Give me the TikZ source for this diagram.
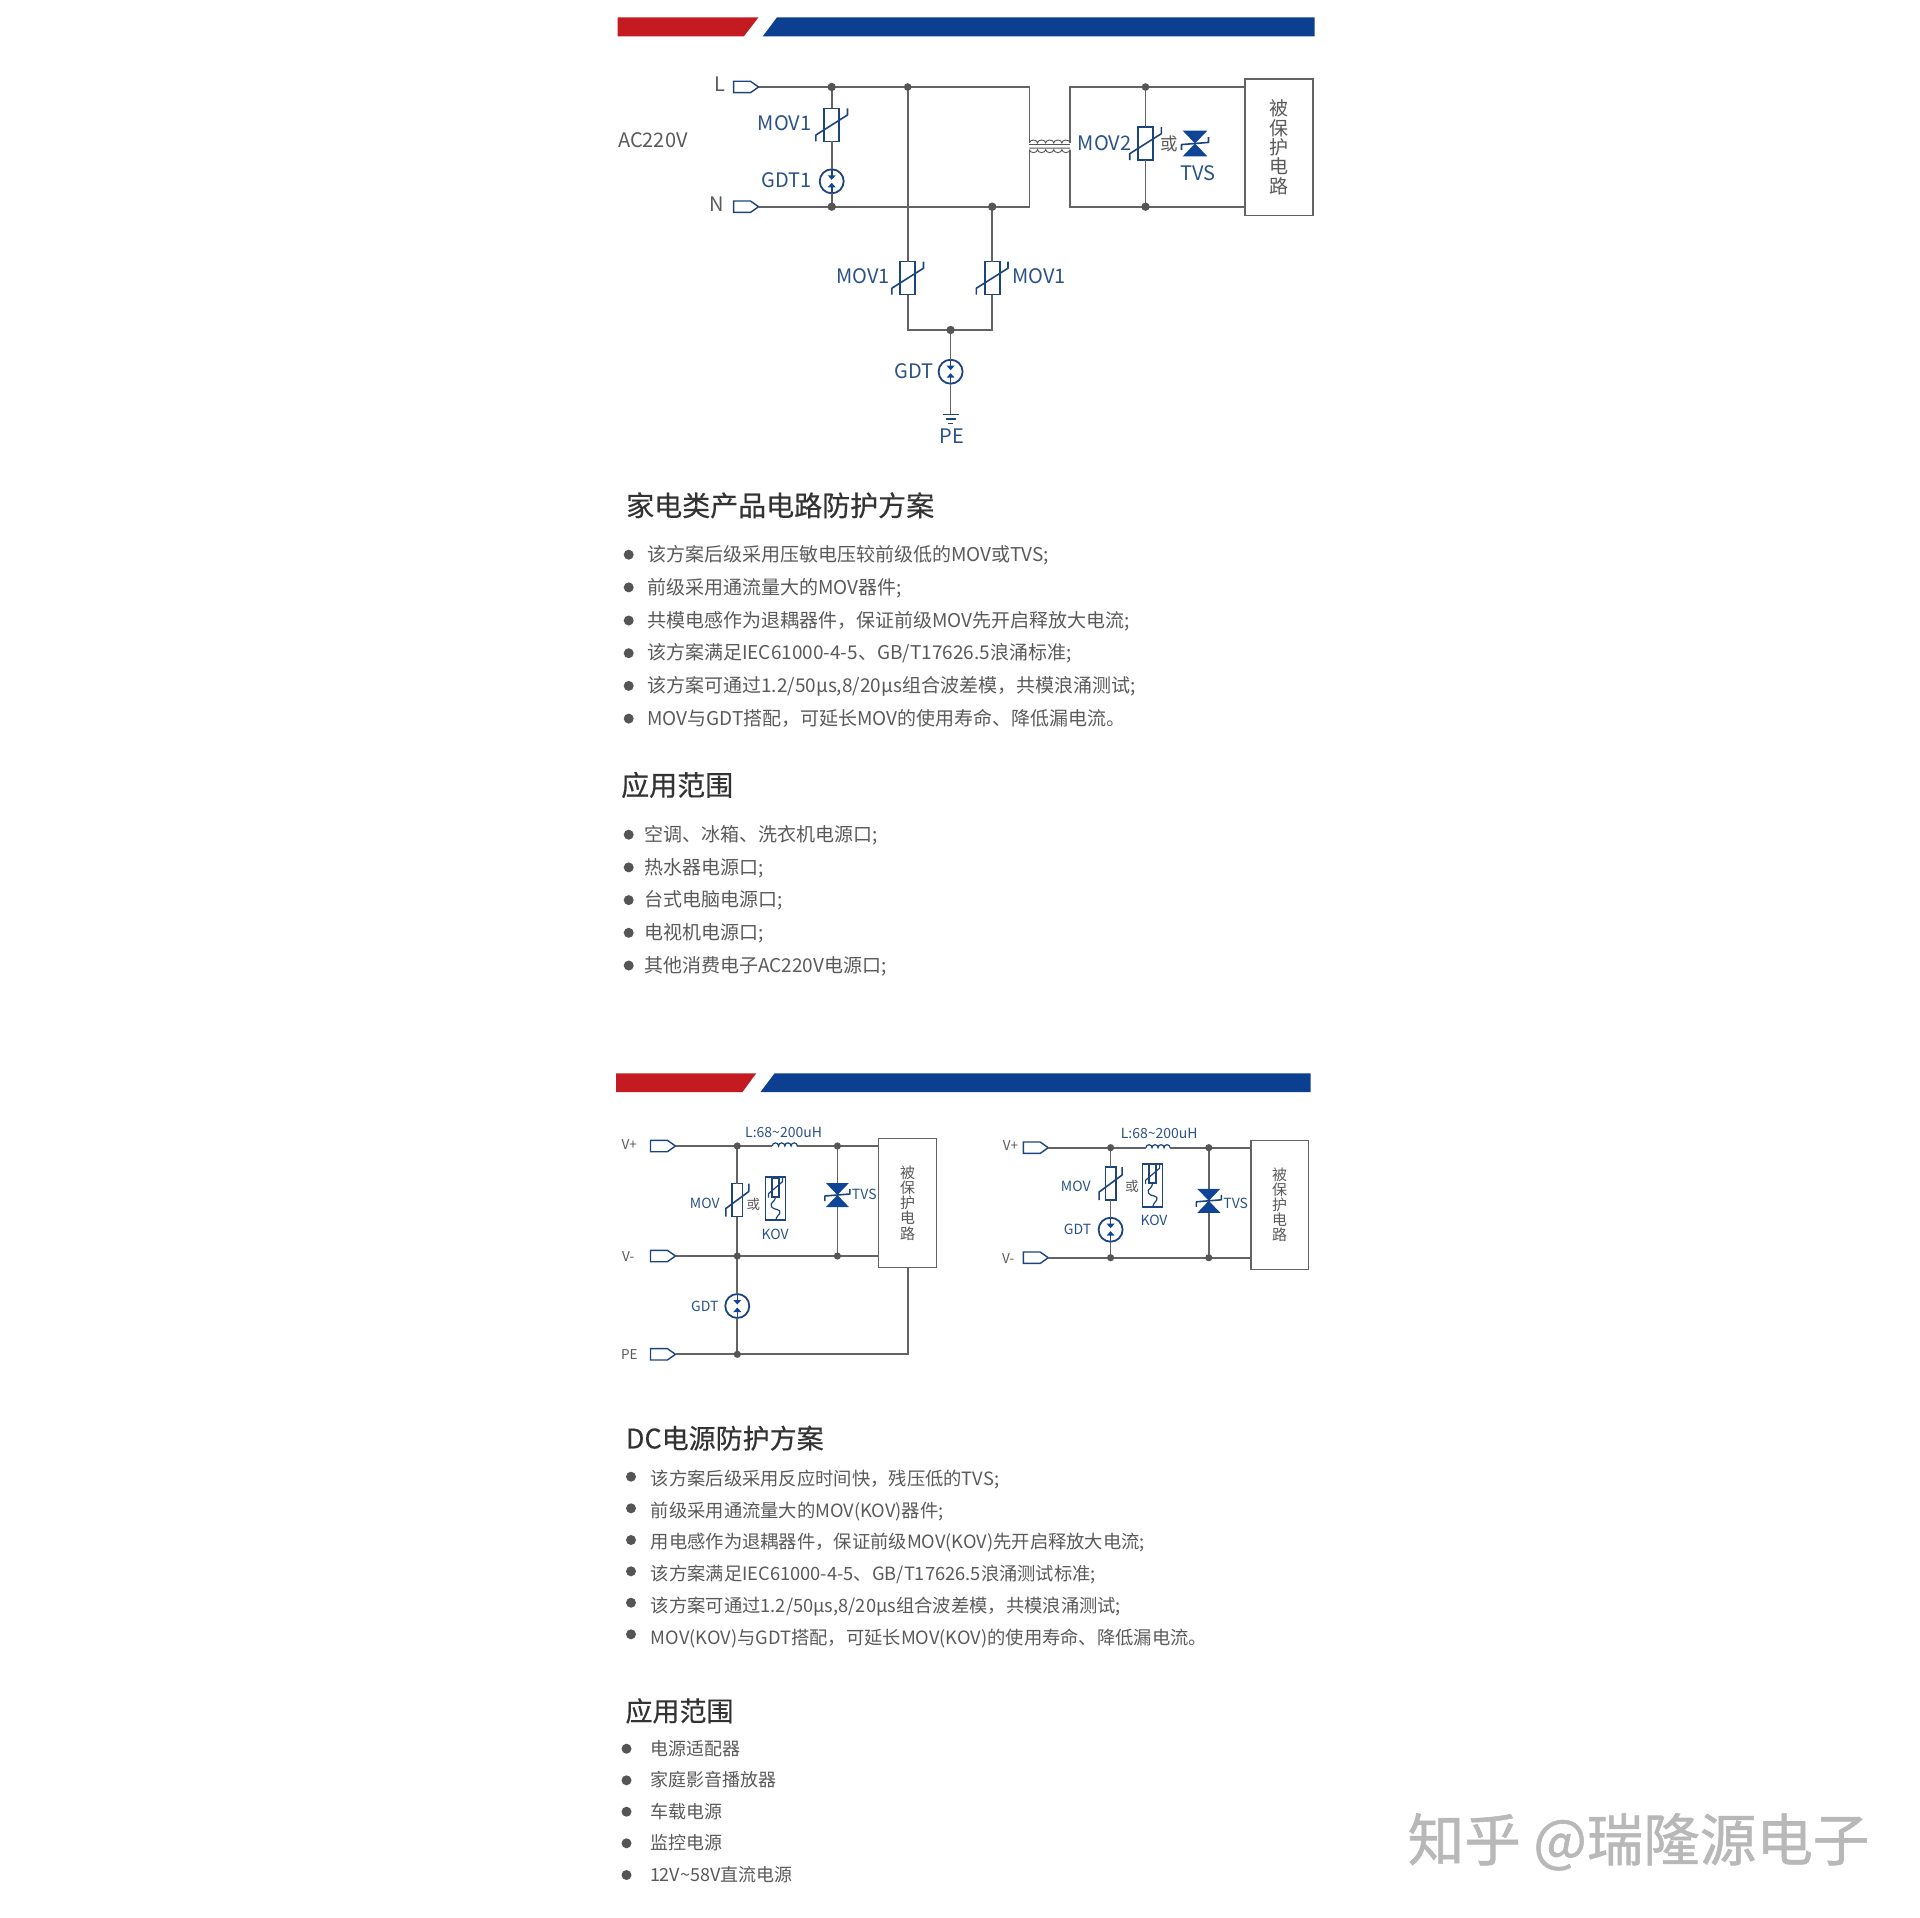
\documentclass[tikz,border=0pt]{standalone}
\usepackage{fontspec}
\setmainfont{Noto Sans CJK SC}
\newfontfamily\headfont[FakeBold=0.5]{Noto Sans CJK SC}
\newfontfamily\markfont[FakeBold=1]{Noto Sans CJK SC}
\usetikzlibrary{positioning}
\usetikzlibrary{shapes.symbols}

\definecolor{barred}{HTML}{C41A22}
\definecolor{barblue}{HTML}{0C3F90}
\definecolor{symblue}{HTML}{1C447F}
\definecolor{fillblue}{HTML}{0F4496}
\definecolor{labblue}{HTML}{2A5288}
\definecolor{wiregray}{HTML}{636363}
\definecolor{dotgray}{HTML}{555555}
\definecolor{txtgray}{HTML}{5A5A5A}
\definecolor{headgray}{HTML}{333333}
\definecolor{markgray}{HTML}{B8B8B8}

\tikzset{
  wire/.style={draw=wiregray, line width=1.7pt},
  symb/.style={draw=symblue, line width=1.6pt, line join=round},
  thinsym/.style={draw=symblue, line width=1.2pt},
  coil/.style={draw=dotgray, line width=0.9pt},
  termbox/.style={signal, signal to=east, signal from=nowhere, signal pointer angle=70,
    draw=symblue, line width=1.4pt, fill=white, inner sep=0pt, outer sep=0pt,
    minimum width=25pt, minimum height=11.4pt, anchor=east},
  movrect/.style={rectangle, draw=symblue, line width=1.6pt, fill=white, inner sep=0pt,
    outer sep=0pt, minimum height=#1},
  movrect/.default=33pt,
  gdtring/.style={circle, draw=symblue, line width=1.8pt, fill=white, inner sep=0pt,
    outer sep=0pt, minimum size=24pt},
  protbox/.style={rectangle, draw=wiregray, line width=1.5pt, fill=white, inner sep=0pt,
    outer sep=0pt, align=center, text=txtgray},
  lab/.style={inner sep=0pt, text height=.85*#1 pt, text depth=.15*#1 pt,
    font=\fontsize{#1}{#1}\selectfont},
  bluelab/.style={lab=20, text=labblue},
  graylab/.style={lab=20, text=txtgray},
  bluesm/.style={lab=14, text=labblue},
  graysm/.style={lab=13.5, text=txtgray},
  headtxt/.style={lab=#1, anchor=west, text=headgray, font=\headfont\fontsize{#1}{#1}\selectfont},
  bodytxt/.style={lab=#1, anchor=west, text=txtgray},
}

% name, centre, half width, tail offset, slope offset
\newcommand{\movsym}[5]{
  \begin{scope}[shift={#2}]
    \node[movrect, minimum width=2*#3 pt] (#1) at (0,0) {};
    \draw[symb] (-#4,16.5) -- (-#4,#5) -- (#4,-#5) -- (#4,-16.5);
  \end{scope}
}
\newcommand{\gdtsym}[2]{
  \begin{scope}[shift={#2}]
    \node[gdtring] (#1) at (0,0) {};
    \draw[symb] (0,-12) -- (0,-4);
    \draw[symb] (0,12) -- (0,4);
    \fill[fillblue] (-4,-6) -- (4,-6) -- (0,-1.5) -- cycle;
    \fill[fillblue] (-4,6) -- (4,6) -- (0,1.5) -- cycle;
  \end{scope}
}
% centre, scale
\newcommand{\tvssym}[2]{
  \begin{scope}[shift={#1}, scale=#2]
    \fill[fillblue] (-11.5,-12) -- (11.5,-12) -- (0,0) -- cycle;
    \fill[fillblue] (-11.5,12) -- (11.5,12) -- (0,0) -- cycle;
    \draw[symb] (-12.5,6) -- (-12.5,1) -- (12.5,-1) -- (12.5,-6);
  \end{scope}
}
\newcommand{\kovsym}[2]{
  \begin{scope}[shift={#2}]
    \node[movrect=43pt, minimum width=20pt] (#1) at (0,0) {};
    \node[movrect=19pt, minimum width=7pt] (#1i) at (0,-11.5) {};
    \draw[thinsym] (#1.north) -- (#1i.north);
    \draw[thinsym] (-7,-1) -- (-7,-5) -- (7,-17) -- (7,-21);
    \draw[thinsym] (#1i.south) .. controls (-1,5) and (-6,3) .. (-4,8)
      .. controls (-2,12) and (6,9) .. (4,15) .. controls (3,18) and (0,18) .. (#1.south);
  \end{scope}
}

\begin{document}
\begin{tikzpicture}[x=1pt,y=-1pt]
  \useasboundingbox (0,0) rectangle (1920,1918);

  % upper band
  \fill[barred] (617.5,17.3) -- (758.6,17.3) -- (743.9,36.3) -- (617.5,36.3) -- cycle;
  \fill[barblue] (777,17.3) -- (1314.5,17.3) -- (1314.5,36.3) -- (762.8,36.3) -- cycle;

  % AC circuit
  \coordinate (J1) at (831.7,87);
  \coordinate (J2) at (907.7,87);
  \coordinate (J3) at (831.7,206.7);
  \coordinate (J4) at (992.2,206.7);
  \coordinate (J5) at (1145.5,87);
  \coordinate (J6) at (1145.5,206.7);
  \coordinate (J7) at (950.6,330);
  \coordinate (C1) at (1029.4,87);
  \coordinate (C2) at (1029.4,143);
  \coordinate (C3) at (1029.4,149.6);
  \coordinate (C4) at (1029.4,206.7);
  \coordinate (D1) at (1070,87);
  \coordinate (D2) at (1070,143);
  \coordinate (D3) at (1070,149.6);
  \coordinate (D4) at (1070,206.7);
  \coordinate (E1) at (907.7,330);
  \coordinate (E2) at (992.2,330);
  \coordinate (P1) at (950.6,414.3);

  \node[termbox] (TL) at (758.6,87) {};
  \node[termbox] (TN) at (758.6,206.7) {};
  \node[protbox, minimum width=68pt, minimum height=136.7pt,
        font=\fontsize{19}{19.4}\selectfont] (B1) at (1279,147.3) {被\\保\\护\\电\\路};
  \movsym{M1}{(831.7,125)}{7.5}{15.8}{10}
  \gdtsym{G1}{(831.7,181.3)}
  \movsym{M2}{(1145.5,143.7)}{7.5}{15.8}{10}
  \movsym{M3}{(907.7,278.2)}{7.5}{15.8}{10}
  \movsym{M4}{(992.2,278.2)}{7.5}{15.8}{10}
  \gdtsym{G2}{(950.6,371.7)}
  \tvssym{(1195,143.5)}{1.08}

  \draw[wire] (TL.east) -- (C1) -- (C2);
  \draw[wire] (TN.east) -- (C4) -- (C3);
  \draw[wire] (D2) -- (D1) -- (B1.west |- D1);
  \draw[wire] (D3) -- (D4) -- (B1.west |- D4);
  \draw[wire] (J1) -- (M1.north);
  \draw[wire] (M1.south) -- (G1.north);
  \draw[wire] (G1.south) -- (J3);
  \draw[wire] (J2) -- (M3.north);
  \draw[wire] (J4) -- (M4.north);
  \draw[wire] (M3.south) -- (E1) -- (E2) -- (M4.south);
  \draw[wire] (J5) -- (M2.north);
  \draw[wire] (M2.south) -- (J6);
  \draw[wire] (J7) -- (G2.north);
  \draw[wire] (G2.south) -- (P1);

  % choke
  \draw[coil] (C2) arc (180:360:4.06 and 3) arc (180:360:4.06 and 3) arc (180:360:4.06 and 3) arc (180:360:4.06 and 3) arc (180:360:4.06 and 3);
  \draw[coil] (C3) arc (180:0:4.06 and 3) arc (180:0:4.06 and 3) arc (180:0:4.06 and 3) arc (180:0:4.06 and 3) arc (180:0:4.06 and 3);
  \draw[coil] (C2) ++(0,1.4) -- (1070,144.4);
  \draw[coil] (C3) ++(0,-1.4) -- (1070,148.2);

  \fill[dotgray] (J1) circle (4.2pt);
  \fill[dotgray] (J2) circle (3.8pt);
  \fill[dotgray] (J3) circle (4.2pt);
  \fill[dotgray] (J4) circle (4.2pt);
  \fill[dotgray] (J5) circle (3.8pt);
  \fill[dotgray] (J6) circle (4.2pt);
  \fill[dotgray] (J7) circle (4.2pt);

  \draw[thinsym] (942.6,414.3) -- (958.6,414.3);
  \draw[thinsym] (945.6,419) -- (955.6,419);
  \draw[thinsym] (948.1,423.7) -- (953.1,423.7);

  \node[graylab] (tL) at (719.9,84.3) {L};
  \node[graylab] (tN) at (716.6,205) {N};
  \node[graylab] (tAC) at (652.9,140.7) {AC220V};
  \node[bluelab] (tM1) at (784.5,123.5) {MOV1};
  \node[bluelab] (tG1) at (786.9,180.7) {GDT1};
  \node[bluelab] (tM2) at (1104.5,143.3) {MOV2};
  \node[lab=17.5, text=txtgray] (tOr) at (1169.1,144) {或};
  \node[bluelab] (tT1) at (1197.9,174) {TVS};
  \node[bluelab] (tM3) at (863.3,276.3) {MOV1};
  \node[bluelab] (tM4) at (1038.9,276.3) {MOV1};
  \node[bluelab] (tG2) at (914.3,371.7) {GDT};
  \node[bluelab] (tPE) at (951.6,436.7) {PE};

  % AC text
  \node[headtxt=28] (h1) at (626,506.2) {家电类产品电路防护方案};
  \fill[dotgray] (628.7,554.7) circle (5pt);
  \fill[dotgray] (628.7,587.4) circle (5pt);
  \fill[dotgray] (628.7,620.5) circle (5pt);
  \fill[dotgray] (628.7,653.2) circle (5pt);
  \fill[dotgray] (628.7,685.9) circle (5pt);
  \fill[dotgray] (628.7,718.6) circle (5pt);
  \node[bodytxt=19] (a1) at (647,554.7) {该方案后级采用压敏电压较前级低的MOV或TVS;};
  \node[bodytxt=19] (a2) at (647,587.4) {前级采用通流量大的MOV器件;};
  \node[bodytxt=19] (a3) at (647,620.5) {共模电感作为退耦器件，保证前级MOV先开启释放大电流;};
  \node[bodytxt=19] (a4) at (647,653.2) {该方案满足IEC61000-4-5、GB/T17626.5浪涌标准;};
  \node[bodytxt=19] (a5) at (647,685.9) {该方案可通过1.2/50µs,8/20µs组合波差模，共模浪涌测试;};
  \node[bodytxt=19] (a6) at (647,718.6) {MOV与GDT搭配，可延长MOV的使用寿命、降低漏电流。};
  \node[headtxt=28] (h2) at (621,785.8) {应用范围};
  \fill[dotgray] (628.7,834.7) circle (5pt);
  \fill[dotgray] (628.7,867.4) circle (5pt);
  \fill[dotgray] (628.7,900.1) circle (5pt);
  \fill[dotgray] (628.7,932.8) circle (5pt);
  \fill[dotgray] (628.7,965.5) circle (5pt);
  \node[bodytxt=19] (b1) at (644,834.7) {空调、冰箱、洗衣机电源口;};
  \node[bodytxt=19] (b2) at (644,867.4) {热水器电源口;};
  \node[bodytxt=19] (b3) at (644,900.1) {台式电脑电源口;};
  \node[bodytxt=19] (b4) at (644,932.8) {电视机电源口;};
  \node[bodytxt=19] (b5) at (644,965.5) {其他消费电子AC220V电源口;};

  % lower band
  \fill[barred] (616,1073.3) -- (756.2,1073.3) -- (742.5,1092) -- (616,1092) -- cycle;
  \fill[barblue] (774.6,1073.3) -- (1310.7,1073.3) -- (1310.7,1092) -- (760.5,1092) -- cycle;

  % DC circuit, left
  \coordinate (K1) at (737.3,1146);
  \coordinate (K2) at (837.4,1146);
  \coordinate (K3) at (737.3,1256);
  \coordinate (K4) at (837.4,1256);
  \coordinate (K5) at (737.3,1354.3);
  \coordinate (K6) at (907.7,1354.3);
  \coordinate (I1) at (772.3,1146);
  \coordinate (I2) at (797.3,1146);

  \node[termbox] (Ta) at (675.5,1146) {};
  \node[termbox] (Tb) at (675.5,1256) {};
  \node[termbox] (Tc) at (675.5,1354.3) {};
  \node[protbox, minimum width=58pt, minimum height=128.6pt,
        font=\fontsize{15}{15.2}\selectfont] (B2) at (907.5,1203) {被\\保\\护\\电\\路};

  \draw[wire] (K2) -- (K4);
  \movsym{M5}{(737.3,1200)}{5.2}{11.5}{8.5}
  \kovsym{V1}{(775.5,1198.7)}
  \gdtsym{G3}{(737.3,1306)}
  \tvssym{(837.4,1195)}{1}

  \draw[wire] (Ta.east) -- (I1);
  \draw[wire] (I2) -- (B2.west |- I2);
  \draw[wire] (Tb.east) -- (B2.west |- Tb.east);
  \draw[wire] (Tc.east) -- (K6) -- (B2.south -| K6);
  \draw[wire] (K1) -- (M5.north);
  \draw[wire] (M5.south) -- (K3);
  \draw[wire] (K3) -- (G3.north);
  \draw[wire] (G3.south) -- (K5);
  \draw[thinsym] (I1) arc (180:360:3.13) arc (180:360:3.13) arc (180:360:3.13) arc (180:360:3.13);

  \fill[dotgray] (K1) circle (3.6pt);
  \fill[dotgray] (K2) circle (3.6pt);
  \fill[dotgray] (K3) circle (3.6pt);
  \fill[dotgray] (K4) circle (3.6pt);
  \fill[dotgray] (K5) circle (3.6pt);

  \node[graysm] (tVa) at (629.3,1144.3) {V+};
  \node[graysm] (tVb) at (628.3,1256.7) {V-};
  \node[graysm] (tVc) at (629.3,1355) {PE};
  \node[bluesm] (tLa) at (783.6,1132.3) {L:68\textasciitilde200uH};
  \node[bluesm] (tM5) at (704.8,1203.3) {MOV};
  \node[graysm] (tOa) at (753.4,1205) {或};
  \node[bluesm] (tKa) at (775.1,1234.3) {KOV};
  \node[bluesm] (tTa) at (864.3,1195) {TVS};
  \node[bluesm] (tG3) at (704.8,1306.7) {GDT};

  % DC circuit, right
  \coordinate (Q1) at (1110.6,1147.7);
  \coordinate (Q2) at (1208.8,1147.7);
  \coordinate (Q3) at (1110.6,1257.7);
  \coordinate (Q4) at (1208.8,1257.7);
  \coordinate (I3) at (1146,1147.7);
  \coordinate (I4) at (1170.1,1147.7);

  \node[termbox] (Td) at (1048.3,1147.7) {};
  \node[termbox] (Te) at (1048.3,1257.7) {};
  \node[protbox, minimum width=57.6pt, minimum height=129pt,
        font=\fontsize{15}{15.2}\selectfont] (B3) at (1279.6,1204.8) {被\\保\\护\\电\\路};

  \draw[wire] (Q2) -- (Q4);
  \movsym{M6}{(1110.6,1183.5)}{5.2}{11.5}{8.5}
  \kovsym{V2}{(1152.6,1185.2)}
  \gdtsym{G4}{(1110.6,1229.7)}
  \tvssym{(1208.8,1200.8)}{1}

  \draw[wire] (Td.east) -- (I3);
  \draw[wire] (I4) -- (B3.west |- I4);
  \draw[wire] (Te.east) -- (B3.west |- Te.east);
  \draw[wire] (Q1) -- (M6.north);
  \draw[wire] (M6.south) -- (G4.north);
  \draw[wire] (G4.south) -- (Q3);
  \draw[thinsym] (I3) arc (180:360:3.01) arc (180:360:3.01) arc (180:360:3.01) arc (180:360:3.01);

  \fill[dotgray] (Q1) circle (3.6pt);
  \fill[dotgray] (Q2) circle (3.6pt);
  \fill[dotgray] (Q3) circle (3.6pt);
  \fill[dotgray] (Q4) circle (3.6pt);

  \node[graysm] (tVd) at (1010.6,1146) {V+};
  \node[graysm] (tVe) at (1008.2,1258.3) {V-};
  \node[bluesm] (tLb) at (1159.2,1134) {L:68\textasciitilde200uH};
  \node[bluesm] (tM6) at (1075.7,1186.7) {MOV};
  \node[graysm] (tOb) at (1131.9,1186.7) {或};
  \node[bluesm] (tKb) at (1154,1220.3) {KOV};
  \node[bluesm] (tTb) at (1235.7,1204) {TVS};
  \node[bluesm] (tG4) at (1077.6,1230) {GDT};

  % DC text
  \node[headtxt=27] (h3) at (625.7,1439) {DC电源防护方案};
  \fill[dotgray] (631,1476.7) circle (5pt);
  \fill[dotgray] (631,1508.3) circle (5pt);
  \fill[dotgray] (631,1540) circle (5pt);
  \fill[dotgray] (631,1571.3) circle (5pt);
  \fill[dotgray] (631,1602.7) circle (5pt);
  \fill[dotgray] (631,1634.3) circle (5pt);
  \node[bodytxt=18.3] (c1) at (650.6,1479) {该方案后级采用反应时间快，残压低的TVS;};
  \node[bodytxt=18.3] (c2) at (650.6,1510.7) {前级采用通流量大的MOV(KOV)器件;};
  \node[bodytxt=18.3] (c3) at (650.6,1542.3) {用电感作为退耦器件，保证前级MOV(KOV)先开启释放大电流;};
  \node[bodytxt=18.3] (c4) at (650.6,1574) {该方案满足IEC61000-4-5、GB/T17626.5浪涌测试标准;};
  \node[bodytxt=18.3] (c5) at (650.6,1605.7) {该方案可通过1.2/50µs,8/20µs组合波差模，共模浪涌测试;};
  \node[bodytxt=18.3] (c6) at (650.6,1638) {MOV(KOV)与GDT搭配，可延长MOV(KOV)的使用寿命、降低漏电流。};
  \node[headtxt=27] (h4) at (625.3,1711.7) {应用范围};
  \fill[dotgray] (626.5,1748.7) circle (5pt);
  \fill[dotgray] (626.5,1780.3) circle (5pt);
  \fill[dotgray] (626.5,1811.7) circle (5pt);
  \fill[dotgray] (626.5,1843.3) circle (5pt);
  \fill[dotgray] (626.5,1875) circle (5pt);
  \node[bodytxt=18] (d1) at (649.8,1748.7) {电源适配器};
  \node[bodytxt=18] (d2) at (649.8,1780.3) {家庭影音播放器};
  \node[bodytxt=18] (d3) at (649.8,1811.7) {车载电源};
  \node[bodytxt=18] (d4) at (649.8,1843.3) {监控电源};
  \node[bodytxt=18] (d5) at (649.8,1875) {12V\textasciitilde58V直流电源};

  \node[lab=56.5, anchor=west, text=markgray, font=\markfont\fontsize{56.5}{60}\selectfont] (wm) at (1407.5,1841) {知乎 @瑞隆源电子};
\end{tikzpicture}
\end{document}
